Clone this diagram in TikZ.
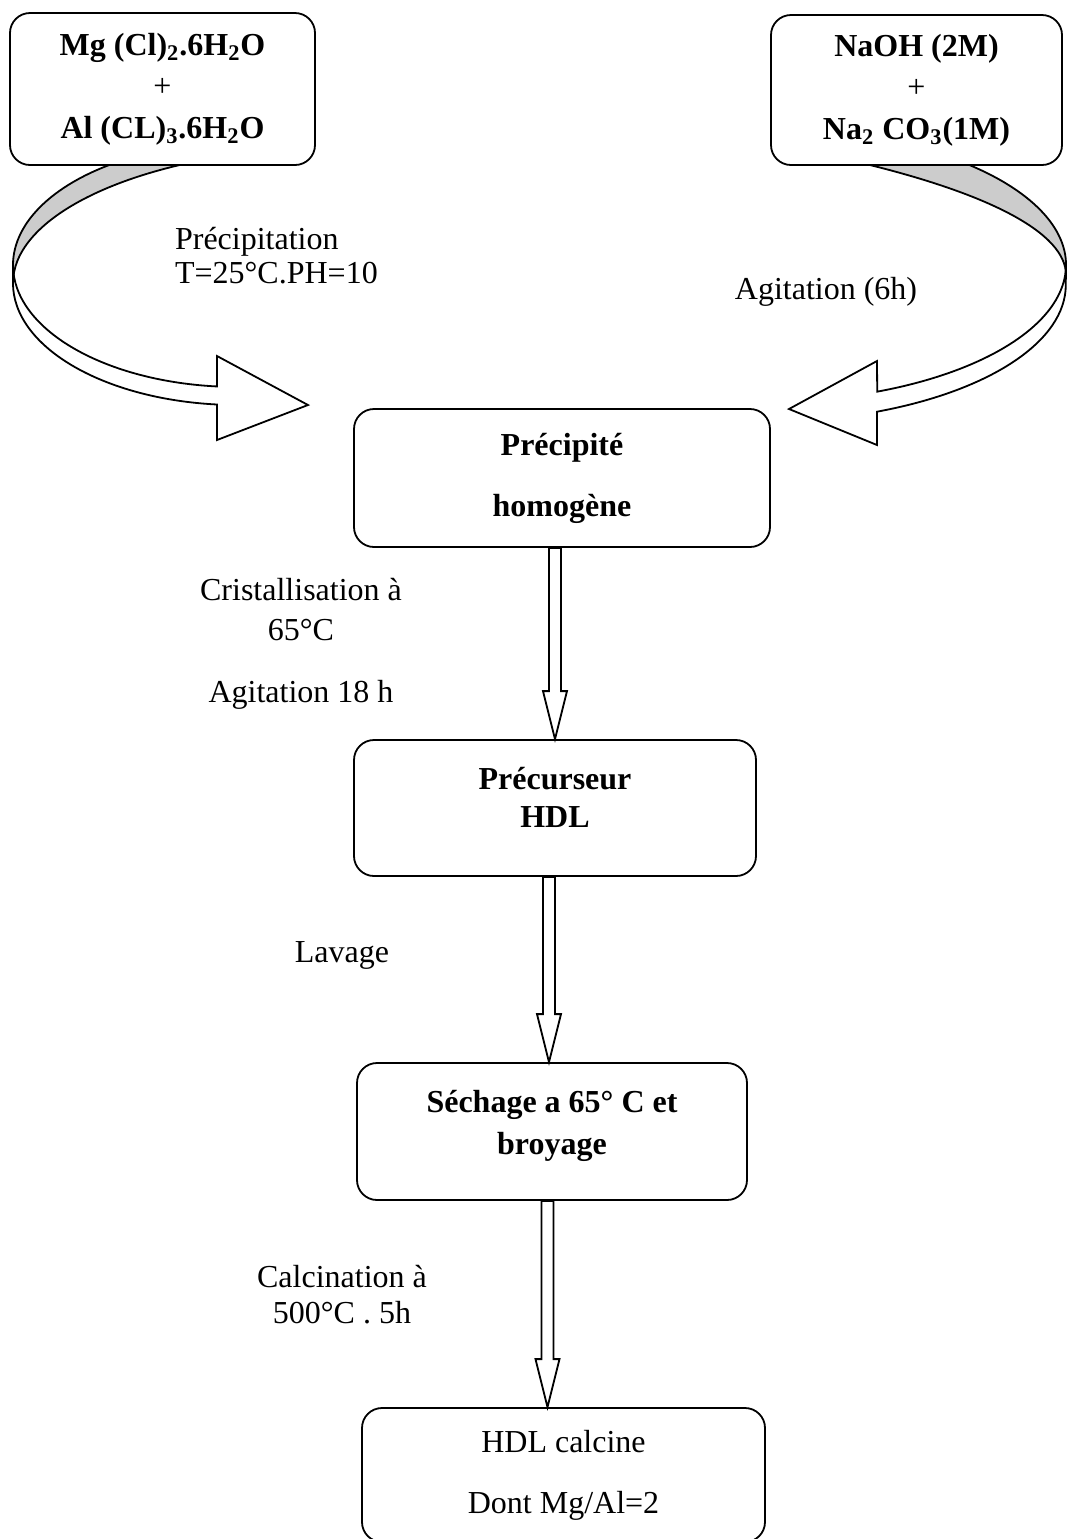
\documentclass[tikz,border=0pt]{standalone}
\usepackage{fontspec}
\setmainfont{Liberation Serif}
\usetikzlibrary{calc}

\tikzset{
  etape/.style={draw, line width=0.9pt, rounded corners=10pt, fill=white, align=center,
    font=\fontsize{16}{20.75}\selectfont\bfseries},
  legende/.style={align=center, font=\fontsize{16}{19}\selectfont},
  ruban/.style={draw, line width=0.9pt, line join=miter},
}

% hollow arrow going down from one box to the next
\newcommand{\flechebas}[2]{%
  \draw[ruban, fill=white] let \p1=(#1), \p2=(#2) in
    (\x2-3pt,\y1) -- (\x2-3pt,\y2+24pt) -- (\x2-6pt,\y2+24pt) -- (\x2,\y2)
    -- (\x2+6pt,\y2+24pt) -- (\x2+3pt,\y2+24pt) -- (\x2+3pt,\y1) -- cycle;}

\begin{document}
\begin{tikzpicture}[x=0.5pt, y=-0.5pt]
    \useasboundingbox (0,0) rectangle (1067,1539);

    % Left curved arrow (back, then front)
    \draw[ruban, fill=gray!40] (125.5,159.4) arc[start angle=240, end angle=180, x radius=225, y radius=122]
        -- (13,283) arc[start angle=180, end angle=253.4, x radius=331.5, y radius=136] -- cycle;
    \draw[ruban, fill=white] (13,265) arc[start angle=180, end angle=95.35, x radius=225, y radius=122]
        -- (217,356) -- (308,405) -- (217,440) -- (217,404.5)
        arc[start angle=95.35, end angle=180, x radius=225, y radius=122] -- cycle;

    % Right curved arrow (back, then front)
    \draw[ruban, fill=gray!40] (957.1,160.1) arc[start angle=310, end angle=360, x radius=305, y radius=137]
        -- (1066,275) arc[start angle=360, end angle=320.6, x radius=952, y radius=181] -- cycle;
    \draw[ruban, fill=white] (1066,265) arc[start angle=0, end angle=67.6, x radius=305, y radius=137]
        -- (877,361) -- (789,409) -- (877,445) -- (877,411.7)
        arc[start angle=67.6, end angle=0, x radius=305, y radius=137] -- cycle;

    % Reactants
    \node[etape, minimum width=152.5pt, minimum height=76pt] (sels) at (162.5,89)
        {Mg (Cl)\textsubscript{2}.6H\textsubscript{2}O\\{\mdseries +}\\Al (CL)\textsubscript{3}.6H\textsubscript{2}O};
    \node[etape, minimum width=145.5pt, minimum height=75pt] (base) at (916.5,90)
        {NaOH (2M)\\{\mdseries +}\\Na\textsubscript{2} CO\textsubscript{3}(1M)};

    % Steps
    \node[etape, minimum width=208pt, minimum height=69pt] (precipite) at (562,478)
        {Précipité\\[9.75pt]homogène};
    \node[etape, minimum width=201pt, minimum height=68pt, text depth=11pt] (precurseur) at (555,808)
        {Précurseur\\[-1.75pt]HDL};
    \node[etape, minimum width=195pt, minimum height=68.5pt, text depth=9pt] (sechage) at (552,1131.5)
        {Séchage a 65° C et\\broyage};
    \node[etape, minimum width=201.5pt, minimum height=67pt, font=\fontsize{16}{20.75}\selectfont] (calcine) at (563.5,1475)
        {HDL calcine\\[9.75pt]Dont Mg/Al=2};

    % Conditions
    \node[legende, anchor=west, align=left] (lprecip) at (168,256) {Précipitation\\[-2pt]T=25°C.PH=10};
    \node[legende] (lagit) at (826,292) {Agitation (6h)};
    \node[legende] (lcrist) at (301,610) {Cristallisation à\\[1pt]65°C};
    \node[legende] (lagit18) at (301,695) {Agitation 18 h};
    \node[legende] (llavage) at (342,955) {Lavage};
    \node[legende] (lcalc) at (342,1295) {Calcination à\\[-1pt]500°C . 5h};

    % Arrows between steps
    \flechebas{precipite.south}{precurseur.north}
    \flechebas{precurseur.south}{[xshift=-1.5pt]sechage.north}
    \flechebas{sechage.south}{[xshift=-8pt]calcine.north}
\end{tikzpicture}
\end{document}
